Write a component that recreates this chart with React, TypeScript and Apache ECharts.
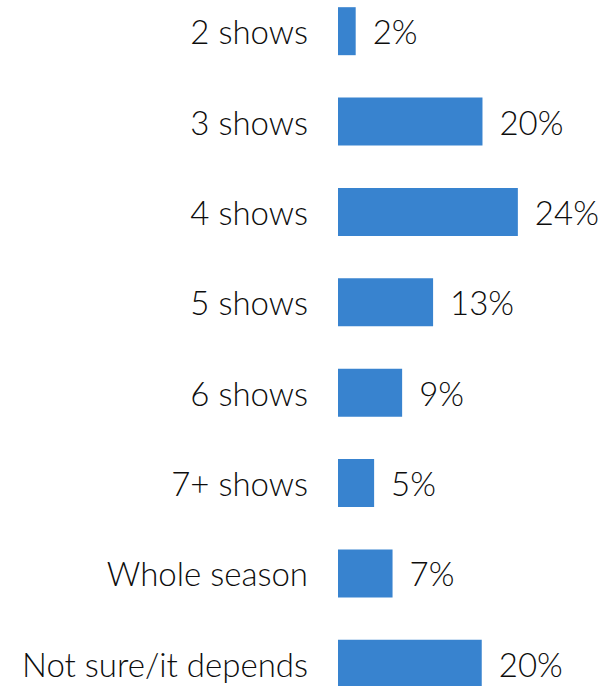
import React, { useEffect, useRef } from "react";
import * as echarts from "echarts";

const categories = [
  "2 shows",
  "3 shows",
  "4 shows",
  "5 shows",
  "6 shows",
  "7+ shows",
  "Whole season",
  "Not sure/it depends",
];
const values = [2.4, 19.6, 24.4, 12.9, 8.7, 4.9, 7.4, 19.5];
const labels = ["2%", "20%", "24%", "13%", "9%", "5%", "7%", "20%"];

export default function App() {
  const ref = useRef<HTMLDivElement>(null);
  useEffect(() => {
    if (!ref.current) return;
    const chart = echarts.init(ref.current, undefined, { renderer: "svg" });
    const font = "Lato, 'Open Sans', sans-serif";
    chart.setOption({
      animation: false,
      grid: { left: 338, right: 7, top: 0, bottom: 0, containLabel: false },
      xAxis: {
        type: "value",
        min: 0,
        max: 35,
        show: false,
      },
      yAxis: {
        type: "category",
        data: categories,
        inverse: true,
        axisLine: { show: false },
        axisTick: { show: false },
        splitLine: { show: false },
        axisLabel: {
          margin: 30,
          fontSize: 33,
          fontWeight: 300,
          fontFamily: font,
          color: "#0d0d0d",
        },
      },
      series: [
        {
          type: "bar",
          data: values,
          barWidth: 48,
          itemStyle: { color: "#3883CF" },
          label: {
            show: true,
            position: "right",
            distance: 17,
            fontSize: 33,
            fontWeight: 300,
            fontFamily: font,
            color: "#0d0d0d",
            formatter: (p: any) => labels[p.dataIndex],
          },
        },
      ],
    });
    return () => chart.dispose();
  }, []);
  return (
    <div
      ref={ref}
      style={{ position: "fixed", left: 0, top: -14, width: 603, height: 723, background: "#fff" }}
    />
  );
}
